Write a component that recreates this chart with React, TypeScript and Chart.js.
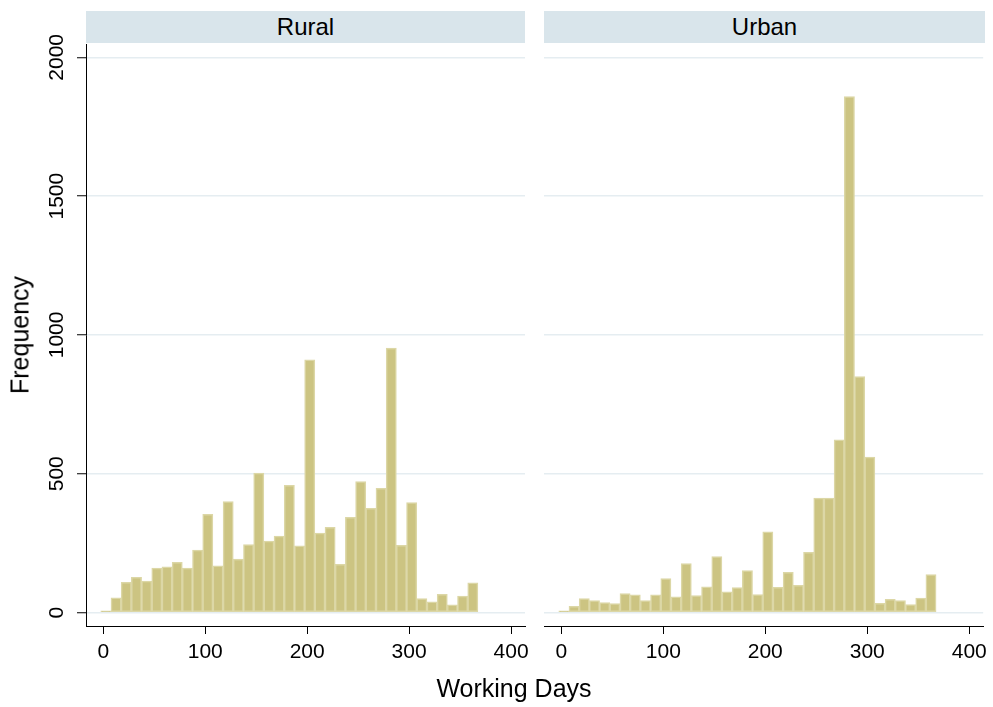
import React, { useEffect, useRef } from "react";
import { Chart, registerables } from "chart.js";

Chart.register(...registerables);

// Histogram bins (centre of each 10-day bin)
const binCenters = [
  2.5, 12.5, 22.5, 32.5, 42.5, 52.5, 62.5, 72.5, 82.5, 92.5,
  102.5, 112.5, 122.5, 132.5, 142.5, 152.5, 162.5, 172.5, 182.5, 192.5,
  202.5, 212.5, 222.5, 232.5, 242.5, 252.5, 262.5, 272.5, 282.5, 292.5,
  302.5, 312.5, 322.5, 332.5, 342.5, 352.5, 362.5,
];

const ruralFreq = [
  6, 53, 109, 127, 113, 160, 165, 181, 160, 225,
  354, 168, 400, 193, 245, 502, 257, 275, 458, 240,
  910, 286, 307, 174, 343, 472, 375, 447, 953, 242,
  396, 50, 39, 66, 28, 59, 107,
];

const urbanFreq = [
  6, 22, 50, 43, 36, 32, 68, 64, 43, 64,
  122, 57, 176, 61, 93, 202, 75, 90, 151, 65,
  291, 91, 145, 98, 217, 412, 412, 622, 1859, 850,
  560, 33, 48, 43, 29, 52, 137,
];

const xTicks = [0, 100, 200, 300, 400];
const yTicks = [0, 500, 1000, 1500, 2000];
const panelTitles = ["Rural", "Urban"];
const xTitle = "Working Days";
const yTitle = "Frequency";

const FONT = '"Liberation Sans", Arial, Helvetica, sans-serif';
const BAR_FILL = "#ccc482";
const BAR_EDGE = "#dcd7a6";
const GRID = "#e5edf1";
const STRIP = "rgb(217,229,235)";

const W = 993;
const H = 707;
const PLOT_TOP = 44;
const PLOT_BOTTOM = 626;

function makeConfig(values: number[], showY: boolean, yWidth: number, padRight: number): any {
  return {
    type: "bar",
    data: {
      datasets: [
        {
          data: binCenters.map((x, i) => ({ x, y: values[i] })),
          backgroundColor: BAR_FILL,
          borderColor: BAR_EDGE,
          borderWidth: 1.5,
          barPercentage: 1,
          categoryPercentage: 1,
          borderSkipped: false,
        },
      ],
    },
    options: {
      responsive: false,
      animation: false,
      layout: { padding: { top: PLOT_TOP, right: padRight, left: 0, bottom: 0 } },
      plugins: { legend: { display: false }, tooltip: { enabled: false }, title: { display: false } },
      scales: {
        x: {
          type: "linear",
          offset: false,
          min: -17,
          max: 413.7,
          afterBuildTicks: (s: any) => {
            s.ticks = xTicks.map((v) => ({ value: v }));
          },
          afterFit: (s: any) => {
            s.height = H - PLOT_BOTTOM;
          },
          grid: {
            offset: false,
            drawOnChartArea: false,
            drawTicks: true,
            tickLength: 8,
            tickColor: "#000",
            tickWidth: 1,
          },
          border: { display: true, color: "#000", width: 1 },
          ticks: {
            minRotation: 0,
            maxRotation: 0,
            padding: 6,
            color: "#000",
            font: { family: FONT, size: 21 },
            callback: (v: any) => String(v),
          },
        },
        y: {
          type: "linear",
          min: -48.5,
          max: 2048,
          afterBuildTicks: (s: any) => {
            s.ticks = yTicks.map((v) => ({ value: v }));
          },
          afterFit: (s: any) => {
            s.width = yWidth;
          },
          grid: {
            color: GRID,
            lineWidth: 1.5,
            drawTicks: showY,
            tickLength: showY ? 9 : 0,
            tickColor: "#000",
            tickWidth: 1,
          },
          border: { display: showY, color: "#000", width: 1 },
          ticks: {
            display: showY,
            minRotation: 90,
            maxRotation: 90,
            crossAlign: "center",
            padding: -4,
            color: "#000",
            font: { family: FONT, size: 21 },
            callback: (v: any) => String(v),
          },
        },
      },
    },
  };
}

export default function App() {
  const leftRef = useRef<HTMLCanvasElement>(null);
  const rightRef = useRef<HTMLCanvasElement>(null);

  useEffect(() => {
    const c1 = new Chart(leftRef.current as HTMLCanvasElement, makeConfig(ruralFreq, true, 86, 10));
    const c2 = new Chart(rightRef.current as HTMLCanvasElement, makeConfig(urbanFreq, false, 0, 8));
    return () => {
      c1.destroy();
      c2.destroy();
    };
  }, []);

  const strip: React.CSSProperties = {
    position: "absolute",
    top: 11,
    height: 32,
    lineHeight: "32px",
    background: STRIP,
    textAlign: "center",
    fontFamily: FONT,
    fontSize: 24,
    color: "#000",
  };

  return (
    <div style={{ position: "absolute", left: 0, top: 0, width: W, height: H, background: "#fff", overflow: "hidden" }}>
      <canvas
        ref={leftRef}
        width={535}
        height={H}
        style={{ position: "absolute", left: 0, top: 0, width: 535, height: H }}
      />
      <canvas
        ref={rightRef}
        width={449}
        height={H}
        style={{ position: "absolute", left: 544, top: 0, width: 449, height: H }}
      />
      <div style={{ ...strip, left: 86, width: 439 }}>{panelTitles[0]}</div>
      <div style={{ ...strip, left: 544, width: 441 }}>{panelTitles[1]}</div>
      <div
        style={{
          position: "absolute",
          left: 20,
          top: 335,
          transform: "translate(-50%, -50%) rotate(-90deg)",
          fontFamily: FONT,
          fontSize: 25,
          lineHeight: "25px",
          whiteSpace: "nowrap",
          color: "#000",
        }}
      >
        {yTitle}
      </div>
      <div
        style={{
          position: "absolute",
          left: 514,
          top: 676,
          transform: "translateX(-50%)",
          fontFamily: FONT,
          fontSize: 25,
          lineHeight: "25px",
          whiteSpace: "nowrap",
          color: "#000",
        }}
      >
        {xTitle}
      </div>
    </div>
  );
}
